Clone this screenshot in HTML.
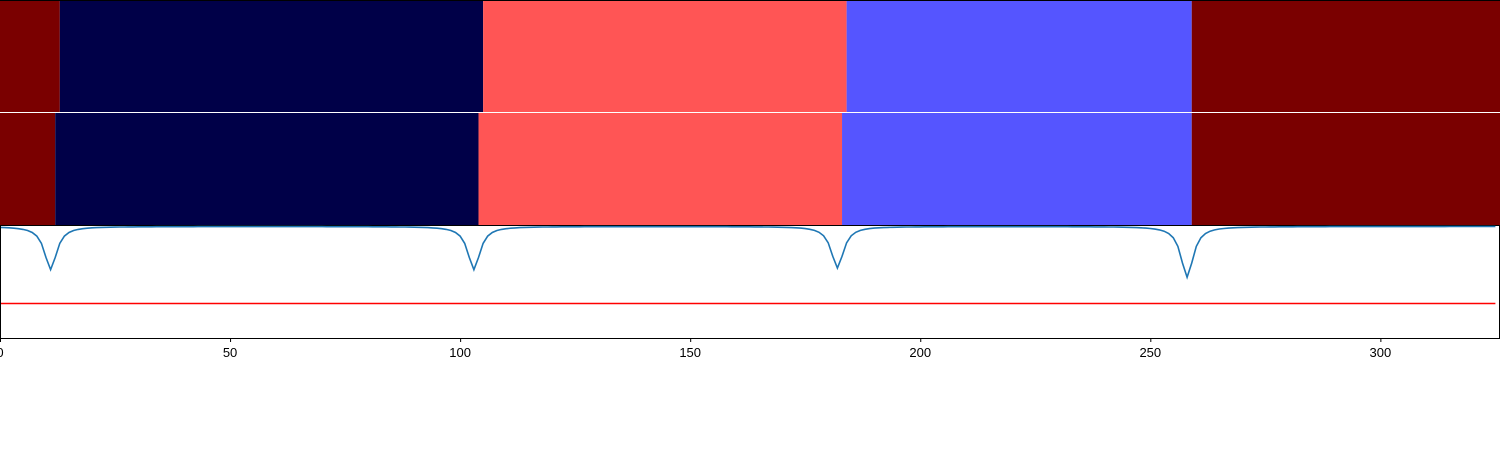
<!DOCTYPE html>
<html><head><meta charset="utf-8"><style>
body{margin:0;background:#fff;width:1500px;height:450px;overflow:hidden;font-family:"Liberation Sans","DejaVu Sans",sans-serif}
</style></head><body>
<svg id="c" width="1500" height="450" xmlns="http://www.w3.org/2000/svg"></svg>
<script>
const segStartsA=[0,13,105,184,259];
const segStartsB=[0,12,104,183,259];
const segClasses=[0,1,2,3,0];
const classColors=["#7a0000","#000048","#ff5555","#5555ff"];
const dipCenters=[11,103,182,258];
const dipValues=[0.72,0.72,0.73,0.67];
const threshold=0.5;
const xTicks=[0,50,100,150,200,250,300];
const xMax=326, dataMax=325;
const svg=document.getElementById('c');
const NS='http://www.w3.org/2000/svg';
const X=v=>v*1500/xMax;
const Y=v=>226.5+(1-v)*154;
function mk(t,a,p){const e=document.createElementNS(NS,t);for(const k in a)e.setAttribute(k,a[k]);(p||svg).appendChild(e);return e;}
function rows(starts,y0,h,name){
  starts.forEach((s,i)=>{
    const e=(i+1<starts.length)?starts[i+1]:xMax;
    const r=mk('rect',{x:X(s),y:y0,width:X(e)-X(s),height:h,fill:classColors[segClasses[i]]});
    
    
  });
}
rows(segStartsA,0,112,'top-row');
rows(segStartsB,113,112,'middle-row');
const b1=mk('line',{x1:0,y1:0.5,x2:1500,y2:0.5,stroke:'#000','stroke-width':1});


const b2=mk('line',{x1:0,y1:225.5,x2:1500,y2:225.5,stroke:'#000','stroke-width':1});


let pts=[];
for(let t=0;t<=dataMax;t++){
  let v=1;
  dipCenters.forEach((c,i)=>{const d=(t-c)/1.6;v-=(1-dipValues[i])/(1+d*d);});
  pts.push(X(t).toFixed(1)+','+Y(v).toFixed(1));
}
const pl=mk('polyline',{points:pts.join(' '),fill:'none',stroke:'#1f77b4','stroke-width':1.6});


const th=mk('line',{x1:X(0),y1:Y(threshold),x2:X(dataMax),y2:Y(threshold),stroke:'#ff0000','stroke-width':1.6});


const ls=mk('line',{x1:0.5,y1:225,x2:0.5,y2:338,stroke:'#000','stroke-width':1});


const rs=mk('line',{x1:1499.5,y1:225,x2:1499.5,y2:338,stroke:'#000','stroke-width':1});


const ax=mk('line',{x1:0,y1:338.5,x2:1500,y2:338.5,stroke:'#000','stroke-width':1});


xTicks.forEach(t=>{
  const tk=mk('line',{x1:X(t)+0.5,y1:338,x2:X(t)+0.5,y2:342,stroke:'#000','stroke-width':1});
  
  
  const tx=mk('text',{x:X(t),y:357,'text-anchor':'middle','font-size':13,fill:'#000'});
  tx.textContent=t;
  
  
});
</script>
</body></html>
